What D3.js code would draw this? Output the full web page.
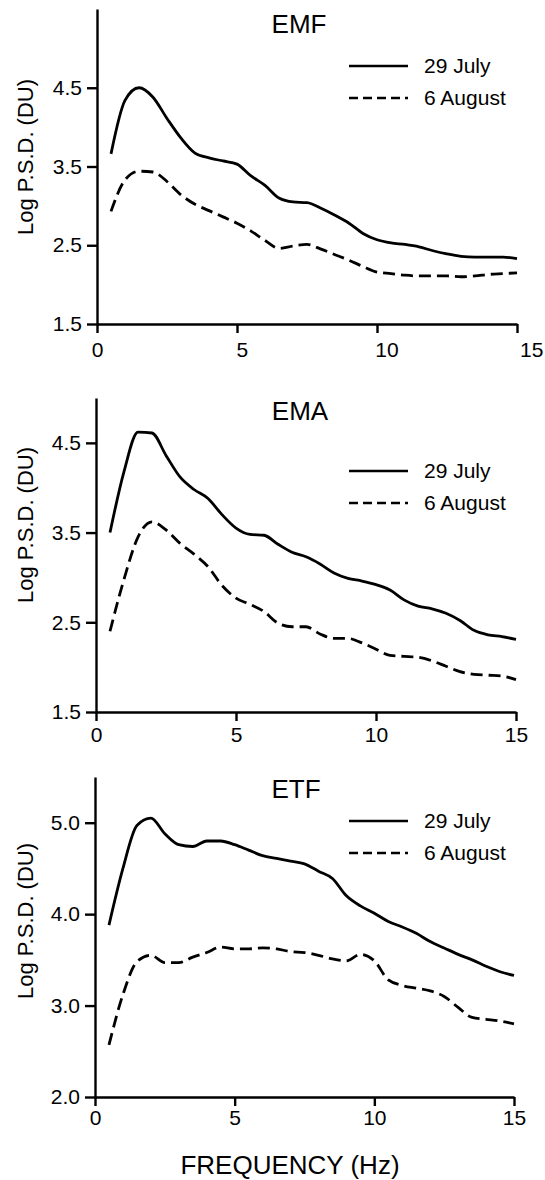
<!DOCTYPE html>
<html>
<head>
<meta charset="utf-8">
<script src="https://cdn.jsdelivr.net/npm/d3@7"></script>
<style>
  html, body { margin: 0; padding: 0; background: #fff; }
  svg { display: block; font-family: "Liberation Sans", Arial, Helvetica, sans-serif; }
  .axis path, .axis line { stroke: #000; stroke-width: 2.4; }
  .axis text { font-size: 21px; fill: #000; }
</style>
</head>
<body>
<svg id="chart" width="545" height="1180"></svg>
<script>
// Frequency bins (Hz)
const frequency = [0.5,1,1.5,2,2.5,3,3.5,4,4.5,5,5.5,6,6.5,7,7.5,8,8.5,9,9.5,10,10.5,11,11.5,12,12.5,13,13.5,14,14.5,15];

// Log power spectral density (DU), EMF
const emfJuly   = [3.66,4.34,4.50,4.38,4.11,3.86,3.67,3.61,3.57,3.53,3.38,3.26,3.10,3.05,3.04,2.97,2.88,2.78,2.65,2.57,2.53,2.51,2.48,2.43,2.39,2.36,2.35,2.35,2.35,2.33];
const emfAugust = [2.93,3.33,3.44,3.43,3.31,3.14,3.02,2.94,2.86,2.78,2.68,2.56,2.46,2.49,2.51,2.45,2.38,2.31,2.23,2.16,2.14,2.12,2.11,2.11,2.11,2.10,2.11,2.13,2.14,2.15];

// EMA
const emaJuly   = [3.50,4.18,4.62,4.61,4.36,4.12,3.98,3.88,3.70,3.55,3.48,3.47,3.37,3.28,3.23,3.15,3.05,2.99,2.96,2.92,2.86,2.75,2.68,2.65,2.60,2.52,2.41,2.36,2.34,2.31];
const emaAugust = [2.40,2.98,3.45,3.62,3.53,3.38,3.26,3.12,2.91,2.77,2.70,2.62,2.49,2.45,2.45,2.37,2.32,2.32,2.27,2.20,2.13,2.12,2.11,2.07,2.01,1.95,1.92,1.91,1.90,1.86];

// ETF
const etfJuly   = [3.88,4.50,4.97,5.05,4.88,4.76,4.74,4.80,4.80,4.76,4.70,4.64,4.61,4.58,4.55,4.47,4.39,4.20,4.09,4.01,3.92,3.86,3.79,3.70,3.63,3.56,3.50,3.43,3.37,3.33];
const etfAugust = [2.57,3.12,3.48,3.55,3.47,3.47,3.53,3.58,3.64,3.62,3.62,3.63,3.62,3.59,3.58,3.55,3.51,3.49,3.56,3.49,3.28,3.22,3.19,3.16,3.10,2.98,2.87,2.85,2.83,2.80];

const panelTitles = ["EMF", "EMA", "ETF"];
const seriesNames = ["29 July", "6 August"];
const xTicks = [0, 5, 10, 15];
const yTicksLow  = [1.5, 2.5, 3.5, 4.5];
const yTicksHigh = [2.0, 3.0, 4.0, 5.0];
const yLabel = "Log P.S.D. (DU)";
const xLabel = "FREQUENCY (Hz)";

// Panel placement and styling
const panels = [
  { title: panelTitles[0], july: emfJuly, august: emfAugust, yDomain: [1.5, 5.5], yTicks: yTicksLow,
    x0: 97, x1: 517, yTop: 9, yBot: 324, tickPad: 9, labelStretch: 1.034,
    titleX: 299, titleY: 33, legendY: 66, yLabelCY: 157 },
  { title: panelTitles[1], july: emaJuly, august: emaAugust, yDomain: [1.5, 5.0], yTicks: yTicksLow,
    x0: 96, x1: 516, yTop: 398, yBot: 712, tickPad: 6, labelStretch: 1,
    titleX: 300, titleY: 420, legendY: 471, yLabelCY: 525 },
  { title: panelTitles[2], july: etfJuly, august: etfAugust, yDomain: [2.0, 5.5], yTicks: yTicksHigh,
    x0: 95, x1: 514, yTop: 777, yBot: 1097, tickPad: 4, labelStretch: 1,
    titleX: 296, titleY: 798, legendY: 821, yLabelCY: 921 }
];

const dash = "12,6";
const svg = d3.select("#chart");

panels.forEach(p => {
  const x = d3.scaleLinear().domain([0, 15]).range([p.x0, p.x1]);
  const y = d3.scaleLinear().domain(p.yDomain).range([p.yBot, p.yTop]);
  const g = svg.append("g");

  // x axis
  const xa = g.append("g").attr("class", "axis")
    .attr("transform", `translate(0,${p.yBot})`)
    .call(d3.axisBottom(x).tickValues(xTicks).tickFormat(d3.format("d"))
      .tickSize(9).tickSizeOuter(0).tickPadding(p.tickPad));
  if (p.labelStretch !== 1) {
    xa.selectAll(".tick text")
      .attr("x", d => (x(d) - p.x0) * (p.labelStretch - 1));
  }

  // y axis
  g.append("g").attr("class", "axis")
    .attr("transform", `translate(${p.x0},0)`)
    .call(d3.axisLeft(y).tickValues(p.yTicks).tickFormat(d3.format(".1f"))
      .tickSize(10).tickSizeOuter(0).tickPadding(5));

  const line = d3.line()
    .x((d, i) => x(frequency[i]))
    .y(d => y(d))
    .curve(d3.curveMonotoneX);

  g.append("path").datum(p.july)
    .attr("d", line).attr("fill", "none").attr("stroke", "#000")
    .attr("stroke-width", 2.8).attr("stroke-linejoin", "round");
  g.append("path").datum(p.august)
    .attr("d", line).attr("fill", "none").attr("stroke", "#000")
    .attr("stroke-width", 2.8).attr("stroke-dasharray", dash);

  // title
  g.append("text").attr("x", p.titleX).attr("y", p.titleY)
    .attr("text-anchor", "middle").attr("font-size", 26).text(p.title);

  // legend
  seriesNames.forEach((name, i) => {
    const ly = p.legendY + i * 32;
    g.append("line").attr("x1", 349).attr("x2", 408).attr("y1", ly).attr("y2", ly)
      .attr("stroke", "#000").attr("stroke-width", 2.6)
      .attr("stroke-dasharray", i === 1 ? "9,5" : null);
    g.append("text").attr("x", 424).attr("y", ly).attr("dy", "0.35em")
      .attr("font-size", 21).text(name);
  });

  // y axis label
  g.append("text")
    .attr("transform", `translate(33,${p.yLabelCY}) rotate(-90)`)
    .attr("text-anchor", "middle").attr("font-size", 22).text(yLabel);
});

svg.append("text").attr("x", 290).attr("y", 1174)
  .attr("text-anchor", "middle").attr("font-size", 26).text(xLabel);
</script>
</body>
</html>
